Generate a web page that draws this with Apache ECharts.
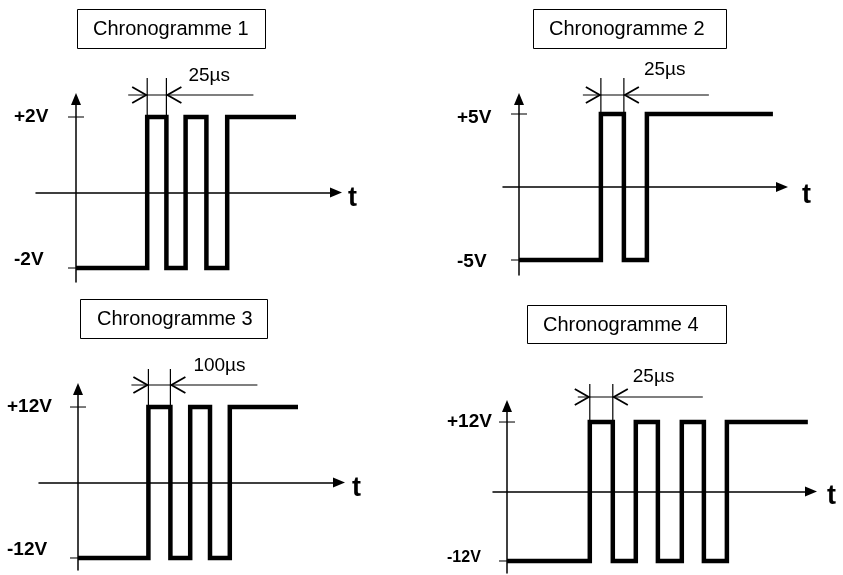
<!DOCTYPE html>
<html>
<head>
<meta charset="utf-8">
<title>Chronogrammes</title>
<script src="https://cdn.jsdelivr.net/npm/echarts@6.0.0/dist/echarts.min.js"></script>
<style>
  html, body { margin: 0; padding: 0; background: #fff; }
  #main { width: 843px; height: 575px; }
</style>
</head>
<body>
<div id="main"></div>
<script>
// titres
const titles = ['Chronogramme 1', 'Chronogramme 2', 'Chronogramme 3', 'Chronogramme 4']

// fronts du signal (µs) et niveau atteint (V)
const times1 = [0, 89, 113, 137, 163, 189, 275]
const levels1 = [-2, 2, -2, 2, -2, 2, 2]
const times2 = [0, 89, 114, 139, 276]
const levels2 = [-5, 5, -5, 5, 5]
const times3 = [0, 320, 420, 510, 600, 690, 1000]
const levels3 = [-12, 12, -12, 12, -12, 12, 12]
const times4 = [0, 90, 115, 140, 164, 190, 214, 239, 327]
const levels4 = [-12, 12, -12, 12, -12, 12, -12, 12, 12]

// graduations de l'axe vertical (V)
const ticks1 = [-2, 2]
const ticks2 = [-5, 5]
const ticks3 = [-12, 12]
const ticks4 = [-12, 12]

// impulsion cotée (début, fin en µs) et sa légende
const dim1 = [89, 113]
const dim2 = [89, 114]
const dim3 = [320, 420]
const dim4 = [90, 115]
const dimLabels = ['25µs', '25µs', '100µs', '25µs']

const allTimes = [times1, times2, times3, times4]
const allLevels = [levels1, levels2, levels3, levels4]
const allTicks = [ticks1, ticks2, ticks3, ticks4]
const allDims = [dim1, dim2, dim3, dim4]

const FONT = "'Liberation Sans', Arial, sans-serif"

// mise en page de chaque chronogramme (pixels)
// labelMargin est compté depuis le bord gauche de la grille
const panels = [
  {
    title: { left: 77, top: 9, padding: [10, 17, 10, 16] },
    origin: [76, 192.5], pxX: 0.8, pxY: 37.75,
    box: [36, 99, 336, 282],
    labelMargin: 22, hiShift: 0, loShift: -8, loSize: 19, nameGap: 12, nameShift: 6,
    dim: { ext: 39, line: 22, left: 19, right: 87, textX: 22, textY: -19 }
  },
  {
    title: { left: 533, top: 9, padding: [10, 22, 10, 16] },
    origin: [519, 187], pxX: 0.92, pxY: 14.6,
    box: [503, 99, 782, 275],
    labelMargin: 46, hiShift: 4, loShift: 2, loSize: 19, nameGap: 20, nameShift: 9,
    dim: { ext: 36, line: 19, left: 18, right: 85, textX: 20, textY: -25 }
  },
  {
    title: { left: 80, top: 299, padding: [10, 15, 10, 17] },
    origin: [78, 482.5], pxX: 0.22, pxY: 6.29,
    box: [39, 389, 339, 570],
    labelMargin: 32, hiShift: 0, loShift: -8, loSize: 19, nameGap: 13, nameShift: 6,
    dim: { ext: 38, line: 22, left: 17, right: 87, textX: 23, textY: -19 }
  },
  {
    title: { left: 527, top: 305, padding: [10, 28, 9, 16] },
    origin: [507, 491.5], pxX: 0.92, pxY: 5.79,
    box: [493, 406, 811, 573],
    labelMargin: 46, hiShift: 0, loShift: -3, loSize: 16, nameGap: 16, nameShift: 5,
    dim: { ext: 38, line: 25, left: 12, right: 90, textX: 20, textY: -20 }
  }
]

function shiftPad(s) {
  return s < 0 ? [0, 0, -2 * s, 0] : [2 * s, 0, 0, 0]
}

// cote : lignes de rappel, flèches et légende
function dimRender(p, label) {
  return function (params, api) {
    const a = api.coord([api.value(0), api.value(2)])
    const b = api.coord([api.value(1), api.value(2)])
    const yExt = a[1] - p.dim.ext
    const yLine = a[1] - p.dim.line
    const thin = { stroke: '#000', lineWidth: 1.2, fill: null }
    const head = { stroke: '#000', lineWidth: 1.8, fill: null }
    return {
      type: 'group',
      children: [
        { type: 'line', shape: { x1: a[0], y1: a[1], x2: a[0], y2: yExt }, style: thin },
        { type: 'line', shape: { x1: b[0], y1: b[1], x2: b[0], y2: yExt }, style: thin },
        { type: 'line', shape: { x1: a[0] - p.dim.left, y1: yLine, x2: b[0] + p.dim.right, y2: yLine }, style: thin },
        { type: 'polyline', shape: { points: [[a[0] - 15, yLine - 8], [a[0] - 1, yLine], [a[0] - 15, yLine + 8]] }, style: head },
        { type: 'polyline', shape: { points: [[b[0] + 15, yLine - 8], [b[0] + 1, yLine], [b[0] + 15, yLine + 8]] }, style: head },
        {
          type: 'text',
          x: b[0] + p.dim.textX,
          y: yLine + p.dim.textY,
          style: {
            text: label, fill: '#000', font: '19px ' + FONT,
            align: 'left', verticalAlign: 'middle'
          }
        }
      ]
    }
  }
}

const chart = echarts.init(document.getElementById('main'))

const option = {
  animation: false,
  backgroundColor: '#fff',
  title: panels.map((p, i) => ({
    text: titles[i],
    left: p.title.left,
    top: p.title.top,
    padding: p.title.padding,
    borderColor: '#000',
    borderWidth: 1,
    textStyle: { fontFamily: FONT, fontSize: 20, fontWeight: 'normal', color: '#000', lineHeight: 20 }
  })),
  grid: panels.map(p => ({
    left: p.box[0],
    top: p.box[1],
    width: p.box[2] - p.box[0],
    height: p.box[3] - p.box[1],
    outerBoundsMode: 'none'
  })),
  xAxis: panels.map((p, i) => ({
    type: 'value',
    gridIndex: i,
    min: (p.box[0] - p.origin[0]) / p.pxX,
    max: (p.box[2] - p.origin[0]) / p.pxX,
    name: '{t|t}',
    nameLocation: 'end',
    nameGap: p.nameGap,
    nameTextStyle: {
      rich: {
        t: { fontFamily: FONT, fontSize: 27, fontWeight: 'bold', color: '#000', padding: shiftPad(p.nameShift) }
      }
    },
    axisLine: {
      onZero: true,
      symbol: ['none', 'triangle'],
      symbolSize: [10, 12],
      lineStyle: { color: '#000', width: 1.5 }
    },
    axisTick: { show: false },
    axisLabel: { show: false },
    splitLine: { show: false }
  })),
  yAxis: panels.map((p, i) => ({
    type: 'value',
    gridIndex: i,
    min: -(p.box[3] - p.origin[1]) / p.pxY,
    max: (p.origin[1] - p.box[1]) / p.pxY,
    axisLine: {
      onZero: true,
      symbol: ['none', 'triangle'],
      symbolSize: [10, 12],
      lineStyle: { color: '#000', width: 1.5 }
    },
    axisTick: { show: false },
    splitLine: { show: false },
    axisLabel: {
      customValues: allTicks[i],
      margin: p.labelMargin,
      align: 'left',
      formatter: v => (v > 0 ? '{hi|+' + v + 'V}' : '{lo|' + v + 'V}'),
      rich: {
        hi: { fontFamily: FONT, fontSize: 19, fontWeight: 'bold', color: '#000', padding: shiftPad(p.hiShift) },
        lo: { fontFamily: FONT, fontSize: p.loSize, fontWeight: 'bold', color: '#000', padding: shiftPad(p.loShift) }
      }
    }
  })),
  series: []
}

panels.forEach((p, i) => {
  // signal
  option.series.push({
    type: 'line',
    xAxisIndex: i,
    yAxisIndex: i,
    step: 'end',
    showSymbol: false,
    silent: true,
    clip: false,
    data: allTimes[i].map((t, k) => [t, allLevels[i][k]]),
    lineStyle: { color: '#000', width: 4.5, join: 'miter', cap: 'butt' }
  })
  // petits traits de graduation qui traversent l'axe
  option.series.push({
    type: 'scatter',
    xAxisIndex: i,
    yAxisIndex: i,
    silent: true,
    symbol: 'rect',
    symbolSize: [16, 1.3],
    itemStyle: { color: '#000' },
    data: allTicks[i].map(v => [0, v])
  })
  // cote de la première impulsion
  option.series.push({
    type: 'custom',
    xAxisIndex: i,
    yAxisIndex: i,
    silent: true,
    clip: false,
    encode: { x: [0, 1], y: 2 },
    renderItem: dimRender(p, dimLabels[i]),
    data: [[allDims[i][0], allDims[i][1], Math.max(...allLevels[i])]]
  })
})

chart.setOption(option)
</script>
</body>
</html>
